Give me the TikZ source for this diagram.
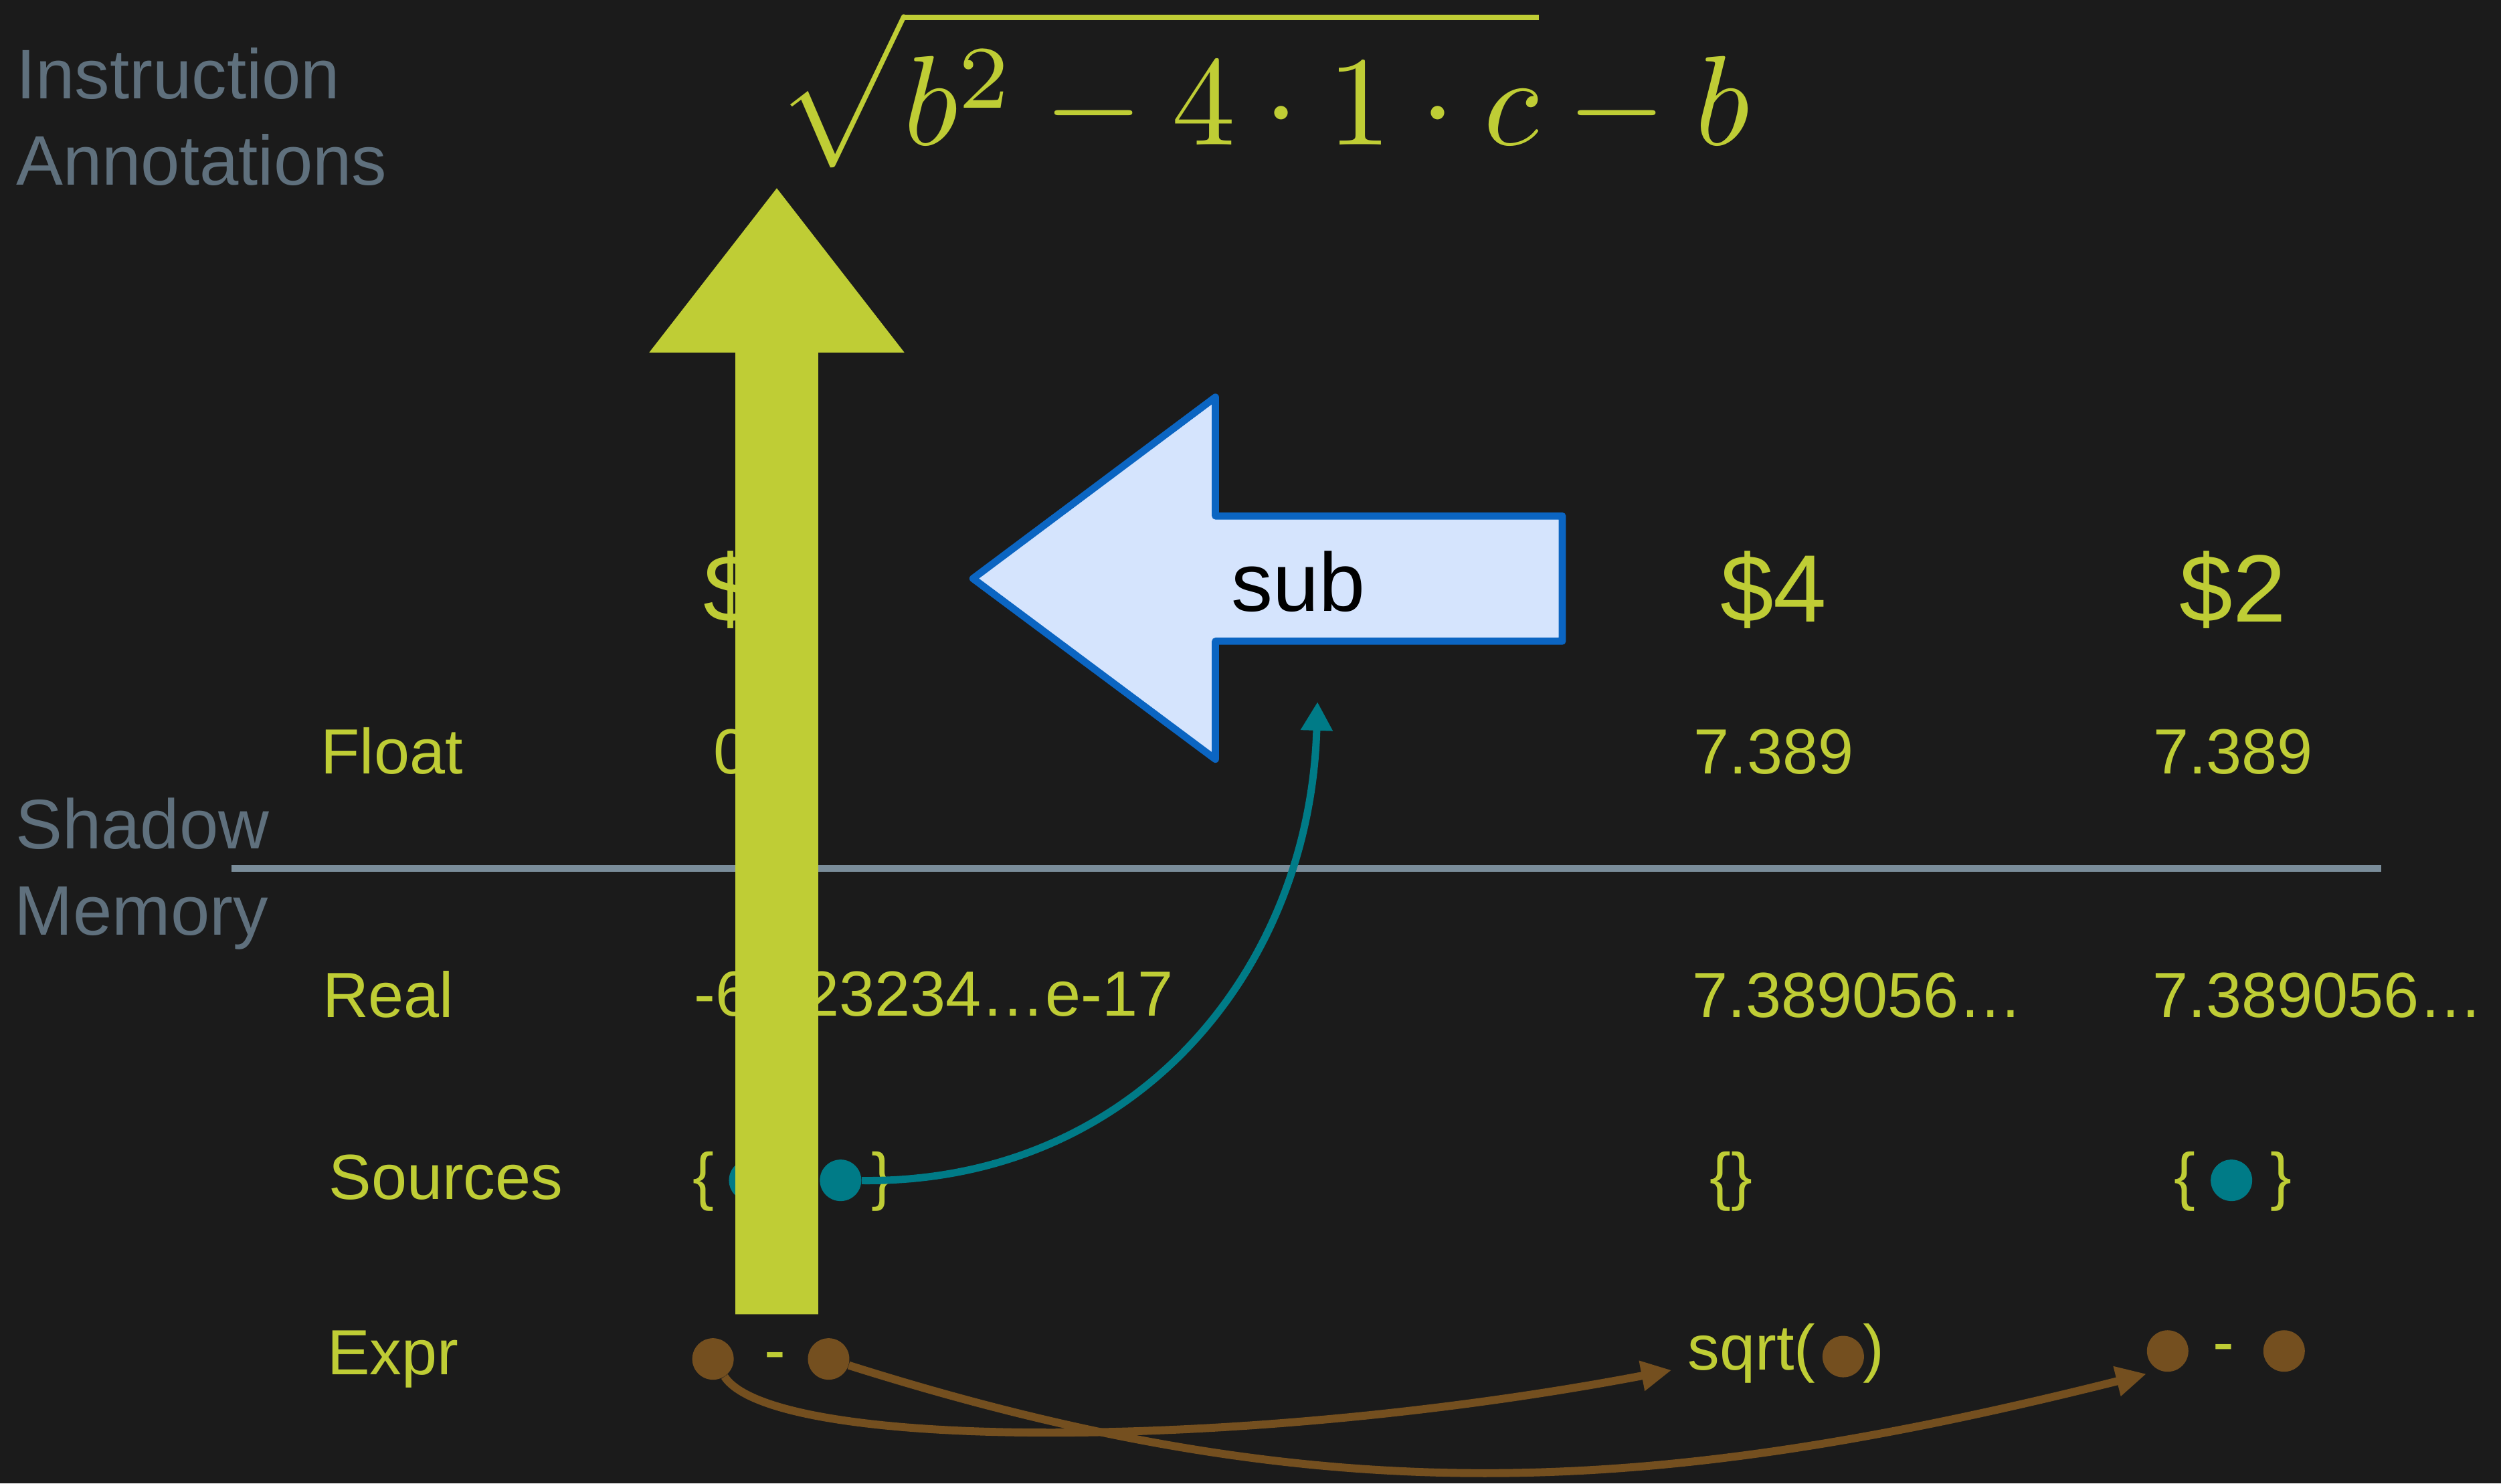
\documentclass[tikz,border=0pt]{standalone}
\usepackage{fontspec}
\setmainfont{Liberation Sans}
\usetikzlibrary{arrows.meta}
\definecolor{bg}{HTML}{1B1B1B}
\definecolor{yg}{HTML}{BFCD35}
\definecolor{graytxt}{HTML}{5F707D}
\definecolor{sepc}{HTML}{7A8D9A}
\definecolor{tealc}{HTML}{007B87}
\definecolor{brownc}{HTML}{744F1F}
\definecolor{bluefill}{HTML}{D5E4FD}
\definecolor{bluedraw}{HTML}{0B65C2}
\tikzset{
  glabel/.style={anchor=base west, inner sep=0, text=graytxt, font=\fontsize{44}{54}\selectfont},
  rowlab/.style={anchor=base west, inner sep=0, text=yg, font=\fontsize{40}{48}\selectfont},
  val/.style={inner sep=0, text=yg, font=\fontsize{40}{48}\selectfont},
  hdr/.style={inner sep=0, text=yg, font=\fontsize{60}{70}\selectfont},
  srcdot/.style={circle, fill=tealc, minimum size=26pt, inner sep=0},
  exdot/.style={circle, fill=brownc, minimum size=26pt, inner sep=0},
  tealarrow/.style={draw=tealc, line width=4.6pt, -{Triangle[length=18pt,width=19pt]}},
  brownarrow/.style={draw=brownc, line width=5pt, -{Triangle[length=19pt,width=18pt]}},
  sepline/.style={draw=sepc, line width=4pt},
  bigarrow/.style={fill=yg},
  subarrow/.style={draw=bluedraw, fill=bluefill, line width=4.5pt, line join=round},
}
\begin{document}
\begin{tikzpicture}[x=1pt,y=-1pt]
\fill[bg] (0,0) rectangle (1568,930);
\useasboundingbox (0,0) rectangle (1568,930);

% left gray labels
\node[glabel] (instr) at (10,62) {Instruction};
\node[glabel] (annot) at (10,116) {Annotations};
\node[glabel] (shadow) at (9.5,532) {Shadow};
\node[glabel] (memory) at (9,586) {Memory};

% formula
\node[anchor=base west, inner sep=0, text=yg, font=\fontsize{10}{12}\selectfont, scale=8.0] (formula) at (485,91) {$\displaystyle\sqrt{b^2-4\cdot 1\cdot c}-b$};

% separator
\draw[sepline] (145,544.5) -- (1493,544.5);

% headers
\node[hdr, anchor=base west] (h5) at (441,390) {\$5};
\node[hdr, anchor=base] (h4) at (1112,390) {\$4};
\node[hdr, anchor=base] (h2) at (1400,390) {\$2};

% row labels
\node[rowlab] (lfloat) at (201,485) {Float};
\node[rowlab] (lreal) at (202,638) {Real};
\node[rowlab] (lsrc) at (206,752) {Sources};
\node[rowlab] (lexpr) at (205,862) {Expr};

% float
\node[val, anchor=base west] (f5) at (447,485) {0};
\node[val, anchor=base] (f4) at (1112,485) {7.389};
\node[val, anchor=base] (f2) at (1400,485) {7.389};

% real
\node[val, anchor=base west] (r5) at (435,637) {-6.123234…e-17};
\node[val, anchor=base west] (r4) at (1061,638) {7.389056…};
\node[val, anchor=base west] (r2) at (1349.5,638) {7.389056…};

% sources
\node[val, anchor=base west] (s5l) at (434,751) {\{};
\node[srcdot] (s5a) at (470,740) {};
\node[srcdot] (s5b) at (527,740) {};
\node[val, anchor=base east] (s5r) at (560,751) {\}};
\node[val, anchor=base] (s4) at (1085.5,751) {\{\}};
\node[val, anchor=base west] (s2l) at (1363,751) {\{};
\node[srcdot] (s2a) at (1399,740) {};
\node[val, anchor=base east] (s2r) at (1437,751) {\}};

% expr
\node[exdot] (e5a) at (447,852) {};
\node[val, anchor=base] (e5m) at (486,860) {-};
\node[exdot] (e5b) at (519.5,852) {};
\node[val, anchor=base west, inner xsep=10pt] (e4) at (1048,859) {sqrt(};
\node[exdot] (e4a) at (1155.6,850.5) {};
\node[val, anchor=base west] (e4r) at (1168,859) {)};
\node[exdot] (e2a) at (1359,847) {};
\node[val, anchor=base] (e2m) at (1394,855) {-};
\node[exdot] (e2b) at (1432,847) {};

% connectors
\coordinate (tealtip) at (826,440);
\draw[tealarrow] (s5b) .. controls (710,742) and (821,610) .. (tealtip);
\draw[brownarrow] (e5a) .. controls (485,910) and (780,910) .. (e4.base west);
\draw[brownarrow] (e5b) .. controls (830,950) and (1036,939) .. ([shift={(-4pt,-5pt)}]e2a.south west);

% big up arrow
\fill[bigarrow] (461,824) -- (461,221) -- (407,221) -- (487,118) -- (567,221) -- (513,221) -- (513,824) -- cycle;

% sub arrow
\draw[subarrow] (979.5,323.5) -- (762,323.5) -- (762,249) -- (610,362.7) -- (762,476) -- (762,402) -- (979.5,402) -- cycle;
\node[anchor=base west, inner sep=0, font=\fontsize{52}{60}\selectfont, text=black] (sub) at (772,383) {sub};
\end{tikzpicture}
\end{document}
